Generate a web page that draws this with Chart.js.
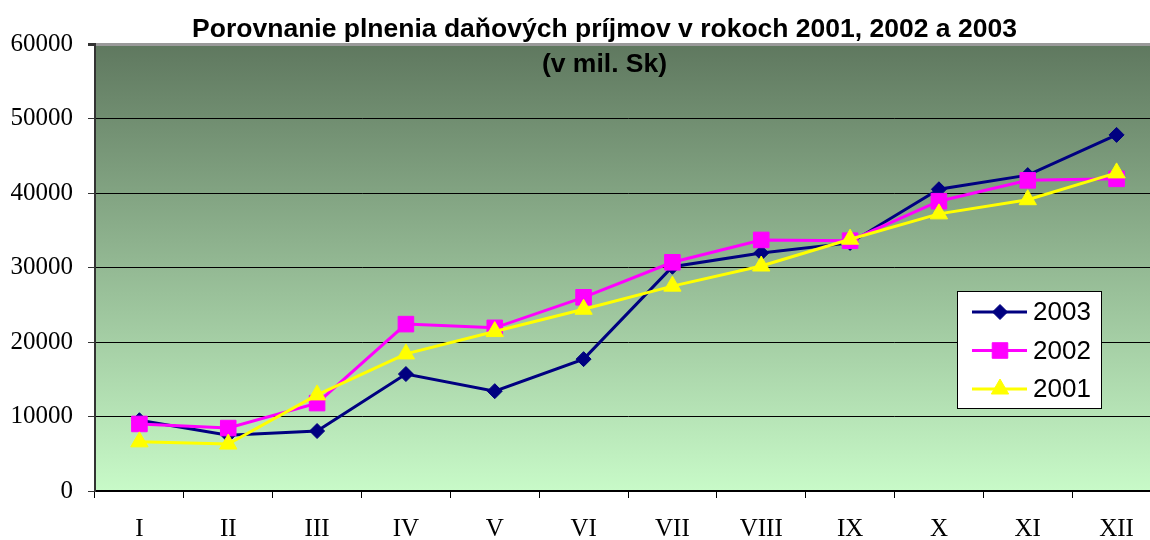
<!DOCTYPE html>
<html>
<head>
<meta charset="utf-8">
<script src="https://cdn.jsdelivr.net/npm/chart.js@4/dist/chart.umd.min.js"></script>
<style>
  html, body { margin: 0; padding: 0; background: #fff; overflow: hidden; }
  #wrap { width: 1173px; height: 540px; position: relative; }
</style>
</head>
<body>
<div id="wrap"><canvas id="taxChart" width="1173" height="540"></canvas></div>
<script>
// Data (mil. Sk)
const months = ['I', 'II', 'III', 'IV', 'V', 'VI', 'VII', 'VIII', 'IX', 'X', 'XI', 'XII'];
const values2003 = [9500, 7500, 8050, 15700, 13400, 17700, 30100, 31950, 33300, 40500, 42400, 47800];
const values2002 = [9000, 8450, 11800, 22400, 21900, 26000, 30700, 33700, 33600, 38900, 41700, 41900];
const values2001 = [6600, 6300, 12900, 18400, 21400, 24400, 27500, 30200, 33800, 37200, 39100, 42700];
const yTicks = [0, 10000, 20000, 30000, 40000, 50000, 60000];

const titleLines = ['Porovnanie plnenia daňových príjmov v rokoch 2001, 2002 a 2003', '(v mil. Sk)'];

// gradient plot background
const plotBackground = {
    id: 'plotBackground',
    beforeDraw(chart) {
        const { ctx, chartArea: a } = chart;
        const g = ctx.createLinearGradient(0, a.top, 0, a.bottom);
        g.addColorStop(0, 'rgb(95,120,95)');
        g.addColorStop(1, 'rgb(200,250,200)');
        ctx.save();
        ctx.fillStyle = g;
        ctx.fillRect(a.left, a.top, a.right - a.left, a.bottom - a.top);
        ctx.restore();
    }
};

// title sits partly over the plot, so draw it by hand
const titleOverlay = {
    id: 'titleOverlay',
    afterDatasetsDraw(chart) {
        const ctx = chart.ctx;
        ctx.save();
        ctx.fillStyle = '#000';
        ctx.font = 'bold 26.5px "Liberation Sans", Arial, sans-serif';
        ctx.textAlign = 'center';
        ctx.textBaseline = 'alphabetic';
        ctx.fillText(titleLines[0], 604.5, 37);
        ctx.fillText(titleLines[1], 604.5, 72);
        ctx.restore();
    }
};

// boxed legend inside the plot area
const boxLegend = {
    id: 'boxLegend',
    afterDraw(chart) {
        const ctx = chart.ctx;
        const x = 957, y = 291, w = 145, h = 118;
        ctx.save();
        ctx.fillStyle = '#fff';
        ctx.fillRect(x, y, w, h);
        ctx.strokeStyle = '#000';
        ctx.lineWidth = 1;
        ctx.strokeRect(x + 0.5, y + 0.5, w - 1, h - 1);
        const shown = [0, 1, 2];
        shown.forEach((i, row) => {
            const ds = chart.data.datasets[i];
            const cy = y + 21 + row * 38.5;
            ctx.strokeStyle = ds.borderColor;
            ctx.lineWidth = ds.borderWidth;
            ctx.beginPath();
            ctx.moveTo(x + 15, cy);
            ctx.lineTo(x + 70, cy);
            ctx.stroke();
            ctx.fillStyle = ds.pointBackgroundColor;
            ctx.strokeStyle = ds.pointBorderColor;
            ctx.lineWidth = 1;
            Chart.helpers.drawPoint(ctx, {
                pointStyle: ds.pointStyle,
                radius: ds.pointRadius,
                rotation: 0,
                borderWidth: 1
            }, x + 43, cy);
            ctx.fillStyle = '#000';
            ctx.font = '26px "Liberation Sans", Arial, sans-serif';
            ctx.textAlign = 'left';
            ctx.textBaseline = 'middle';
            ctx.fillText(ds.label, x + 76, cy + 1);
        });
        ctx.restore();
    }
};

const ctx = document.getElementById('taxChart').getContext('2d');
new Chart(ctx, {
    type: 'line',
    data: {
        labels: months,
        datasets: [{
            label: '2003',
            data: values2003,
            borderColor: '#000080',
            borderWidth: 3,
            pointStyle: 'rectRot',
            pointRadius: 7.5,
            pointBackgroundColor: '#000080',
            pointBorderColor: '#000080',
            pointBorderWidth: 1,
            order: 2
        }, {
            label: '2002',
            data: values2002,
            borderColor: '#ff00ff',
            borderWidth: 3,
            pointStyle: 'rect',
            pointRadius: 11,
            pointBackgroundColor: '#ff00ff',
            pointBorderColor: '#ff00ff',
            pointBorderWidth: 1,
            order: 1
        }, {
            label: '2001',
            data: values2001,
            borderColor: '#ffff00',
            borderWidth: 3,
            pointStyle: 'triangle',
            pointRadius: 10,
            pointBackgroundColor: '#ffff00',
            pointBorderColor: '#ffff00',
            pointBorderWidth: 1,
            order: 0
        }]
    },
    options: {
        responsive: false,
        animation: false,
        layout: { padding: { top: 44, right: 0, bottom: 0, left: 0 } },
        plugins: {
            legend: { display: false },
            title: { display: false },
            tooltip: { enabled: false }
        },
        elements: { line: { tension: 0 } },
        scales: {
            x: {
                offset: true,
                grid: {
                    offset: true,
                    drawOnChartArea: false,
                    color: '#000',
                    tickLength: 7
                },
                border: { color: '#000', width: 2 },
                ticks: {
                    color: '#000',
                    font: { family: '"Liberation Serif", "Times New Roman", serif', size: 25 },
                    padding: 16,
                    maxRotation: 0
                },
                afterFit(scale) { scale.height = 49; }
            },
            y: {
                min: 0,
                max: 60000,
                afterBuildTicks(scale) { scale.ticks = yTicks.map(v => ({ value: v })); },
                grid: {
                    color: c => c.tick && c.tick.value === 60000 ? '#9a9a9a' : '#000',
                    lineWidth: c => c.tick && c.tick.value === 60000 ? 3 : 1,
                    tickColor: '#333',
                    tickLength: 7
                },
                border: { color: '#333', width: 2 },
                ticks: {
                    color: '#000',
                    font: { family: '"Liberation Serif", "Times New Roman", serif', size: 25 },
                    padding: 15,
                    callback: v => String(v)
                },
                afterFit(scale) { scale.width = 95; }
            }
        }
    },
    plugins: [plotBackground, titleOverlay, boxLegend]
});
</script>
</body>
</html>
